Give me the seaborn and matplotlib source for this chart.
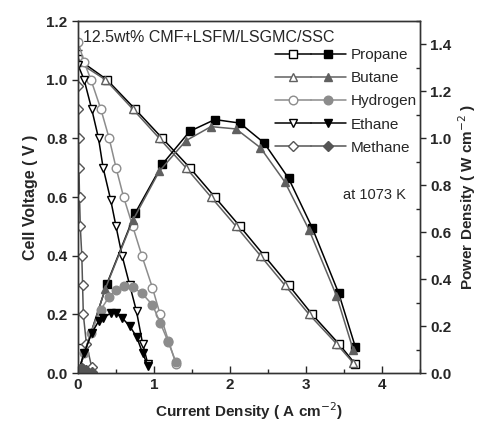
import matplotlib
matplotlib.use("Agg")
import matplotlib.pyplot as plt
from matplotlib.legend_handler import HandlerTuple
from matplotlib.lines import Line2D
from matplotlib.ticker import MultipleLocator
import seaborn as sns

# Current density (A cm^-2), cell voltage (V) and power density (W cm^-2)
propane_i = [0, 0.38, 0.75, 1.11, 1.47, 1.80, 2.13, 2.45, 2.77, 3.08, 3.43, 3.65]
propane_v = [1.07, 1.0, 0.9, 0.8, 0.7, 0.6, 0.5, 0.4, 0.3, 0.2, 0.1, 0.03]
propane_p = [0, 0.38, 0.68, 0.89, 1.03, 1.08, 1.065, 0.98, 0.83, 0.62, 0.34, 0.11]

butane_i = [0, 0.36, 0.72, 1.07, 1.42, 1.75, 2.08, 2.40, 2.72, 3.04, 3.40, 3.62]
butane_v = [1.06, 1.0, 0.9, 0.8, 0.7, 0.6, 0.5, 0.4, 0.3, 0.2, 0.1, 0.035]
butane_p = [0, 0.36, 0.65, 0.86, 0.99, 1.05, 1.04, 0.96, 0.815, 0.61, 0.33, 0.10]

hydrogen_i = [0, 0.08, 0.17, 0.30, 0.41, 0.50, 0.60, 0.72, 0.84, 0.98, 1.08, 1.19, 1.29]
hydrogen_v = [1.13, 1.06, 1.0, 0.9, 0.8, 0.7, 0.6, 0.5, 0.4, 0.29, 0.2, 0.11, 0.03]
hydrogen_p = [0, 0.085, 0.17, 0.27, 0.325, 0.355, 0.37, 0.365, 0.34, 0.29, 0.215, 0.13, 0.045]

ethane_i = [0, 0.08, 0.18, 0.27, 0.33, 0.43, 0.50, 0.58, 0.68, 0.77, 0.85, 0.92]
ethane_v = [1.05, 1.0, 0.9, 0.8, 0.7, 0.59, 0.5, 0.4, 0.3, 0.21, 0.1, 0.03]
ethane_p = [0, 0.085, 0.17, 0.22, 0.235, 0.255, 0.255, 0.235, 0.20, 0.155, 0.085, 0.03]

methane_i = [0, 0.004, 0.008, 0.012, 0.02, 0.03, 0.05, 0.06, 0.07, 0.11, 0.18]
methane_v = [0.98, 0.9, 0.8, 0.7, 0.6, 0.5, 0.4, 0.3, 0.2, 0.1, 0.02]
methane_p = [0, 0.004, 0.006, 0.008, 0.012, 0.015, 0.02, 0.018, 0.014, 0.011, 0.004]

series = [
    ("Propane", propane_i, propane_v, propane_p, "#000000", "s"),
    ("Butane", butane_i, butane_v, butane_p, "#606060", "^"),
    ("Hydrogen", hydrogen_i, hydrogen_v, hydrogen_p, "#8c8c8c", "o"),
    ("Ethane", ethane_i, ethane_v, ethane_p, "#000000", "v"),
    ("Methane", methane_i, methane_v, methane_p, "#555555", "D"),
]

sns.set_style("ticks")
plt.rcParams["font.family"] = ["Liberation Sans", "DejaVu Sans"]

fig = plt.figure(figsize=(4.78, 4.26), dpi=100)
ax = fig.add_axes([0.1632, 0.1244, 0.7155, 0.8263])
ax2 = ax.twinx()

handles = []
for name, cur, volt, pw, col, mk in series:
    ms = 5.2 if mk == "D" else 6.2
    sns.lineplot(x=cur, y=volt, ax=ax, color=col, lw=1.1, sort=False,
                 estimator=None, marker=mk, markersize=ms,
                 markerfacecolor="white", markeredgecolor=col,
                 markeredgewidth=1.0)
    sns.lineplot(x=cur, y=pw, ax=ax2, color=col, lw=1.1, sort=False,
                 estimator=None, marker=mk, markersize=ms,
                 markerfacecolor=col, markeredgecolor=col,
                 markeredgewidth=1.0)
    h_open = Line2D([], [], color=col, lw=1.1, marker=mk, markersize=ms,
                    markerfacecolor="white", markeredgecolor=col)
    h_fill = Line2D([], [], color=col, lw=1.1, marker=mk, markersize=ms,
                    markerfacecolor=col, markeredgecolor=col)
    handles.append(((h_open, h_fill), name))

ax.set_xlim(0, 4.5)
ax.set_ylim(0, 1.2)
ax2.set_ylim(0, 1.5)

ax.xaxis.set_major_locator(MultipleLocator(1))
ax.xaxis.set_minor_locator(MultipleLocator(0.5))
ax.yaxis.set_major_locator(MultipleLocator(0.2))
ax.yaxis.set_minor_locator(MultipleLocator(0.1))
ax2.yaxis.set_major_locator(MultipleLocator(0.2))
ax2.yaxis.set_minor_locator(MultipleLocator(0.1))

ax.xaxis.set_major_formatter(plt.FuncFormatter(lambda v, p: f"{v:.0f}"))
ax.yaxis.set_major_formatter(plt.FuncFormatter(lambda v, p: f"{v:.1f}"))
ax2.yaxis.set_major_formatter(plt.FuncFormatter(lambda v, p: f"{v:.1f}"))

ax.tick_params(axis="x", which="both", direction="in", top=False, labelsize=11)
ax.tick_params(axis="x", which="major", length=5, width=1)
ax.tick_params(axis="x", which="minor", length=3, width=1)
ax.tick_params(axis="y", which="major", direction="out", length=4, width=1, labelsize=11)
ax.tick_params(axis="y", which="minor", direction="in", length=3, width=1)
ax2.tick_params(axis="y", which="major", direction="out", length=4, width=1, labelsize=11)
ax2.tick_params(axis="y", which="minor", direction="in", length=3, width=1)
for lab in ax.get_xticklabels() + ax.get_yticklabels() + ax2.get_yticklabels():
    lab.set_fontweight("bold")

for a in (ax, ax2):
    for sp in a.spines.values():
        sp.set_visible(True)
        sp.set_linewidth(1.0)
        sp.set_color("#333333")

ax.set_xlabel("Current Density ( A cm$^{-2}$)", fontsize=11, fontweight="bold", labelpad=6)
ax.set_ylabel("Cell Voltage ( V )", fontsize=11.5, fontweight="bold", labelpad=6)
ax2.set_ylabel("Power Density ( W cm$^{-2}$ )", fontsize=11, fontweight="bold", labelpad=3)

ax.text(0.015, 0.975, "12.5wt% CMF+LSFM/LSGMC/SSC", transform=ax.transAxes,
        ha="left", va="top", fontsize=11.5)
ax.text(0.775, 0.506, "at 1073 K", transform=ax.transAxes,
        ha="left", va="center", fontsize=10.5)

leg = ax2.legend([h for h, _ in handles], [n for _, n in handles],
                 handler_map={tuple: HandlerTuple(ndivide=None, pad=0)},
                 loc="upper left", bbox_to_anchor=(0.555, 0.945),
                 frameon=False, numpoints=1, handlelength=4.6,
                 handletextpad=0.35, labelspacing=0.6, borderpad=0,
                 fontsize=11)

fig.savefig("out.png", dpi=100)
